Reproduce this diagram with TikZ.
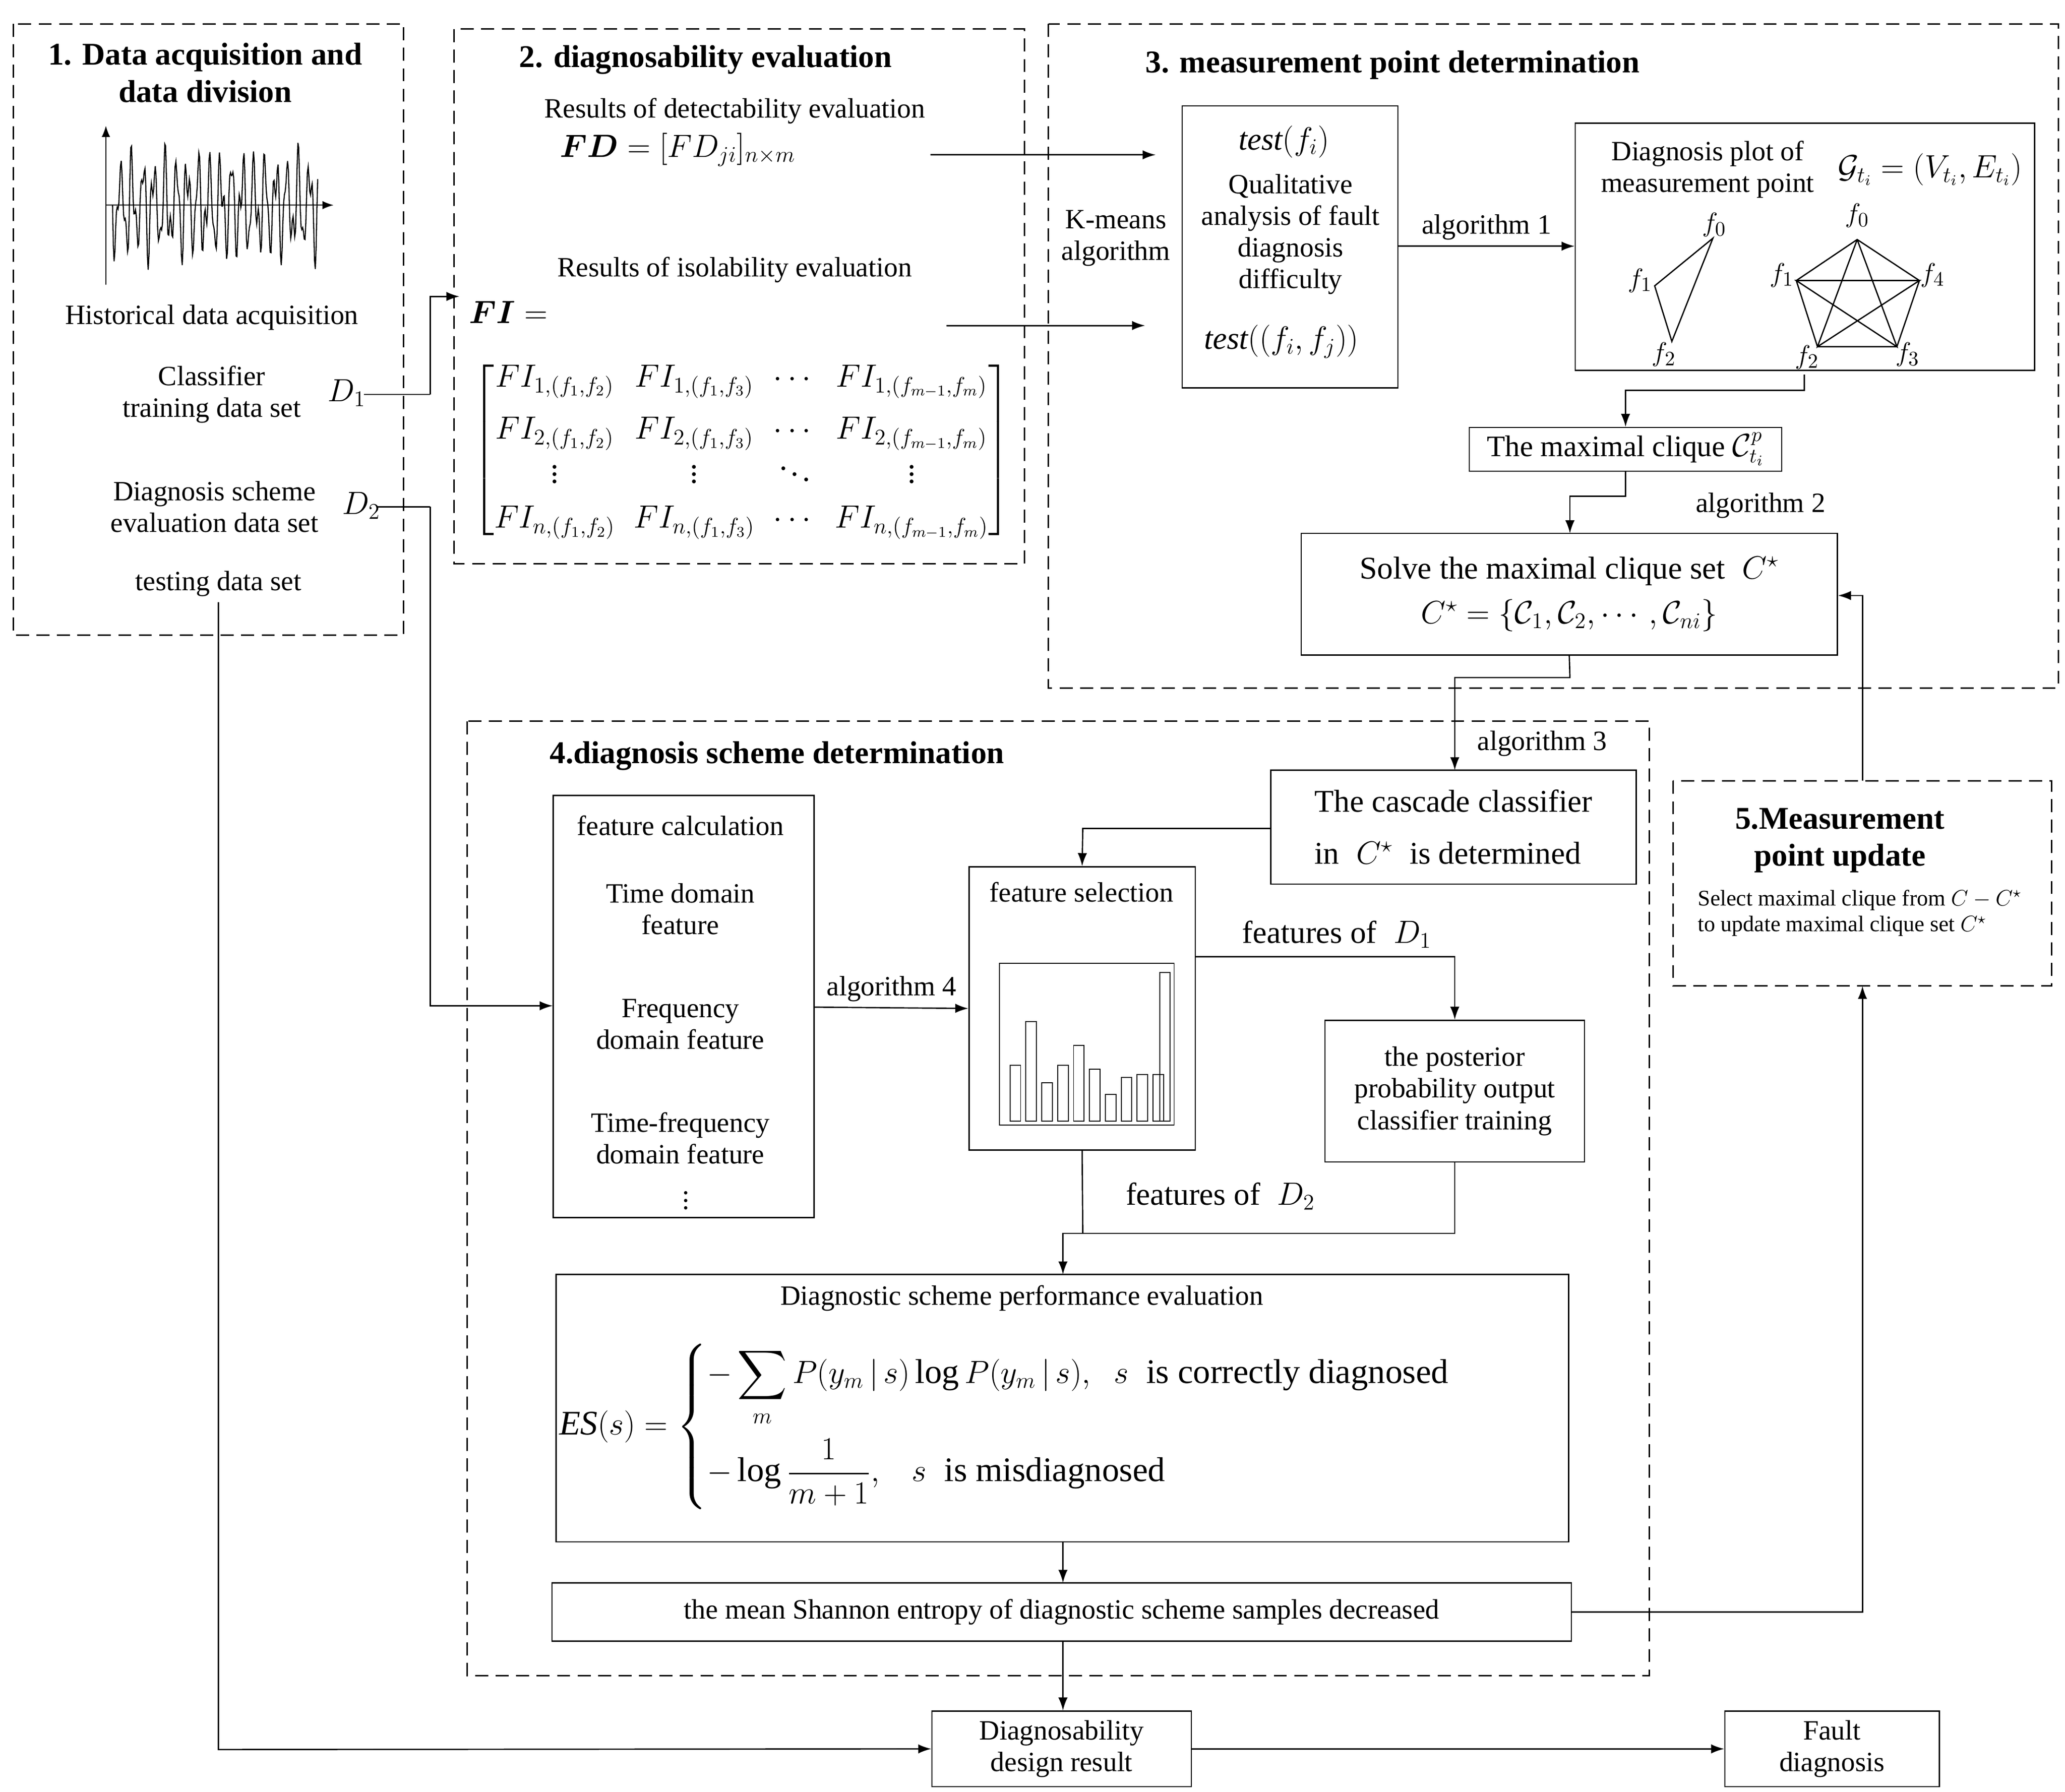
\documentclass[tikz,border=0pt]{standalone}
\usepackage{amsmath,amssymb}
\usepackage{fontspec}
\setmainfont{Liberation Serif}
\usetikzlibrary{arrows.meta}
\begin{document}
\begin{tikzpicture}[x=0.025cm,y=-0.025cm,
  font=\fontsize{15}{17}\selectfont,
  dbox/.style={draw,dashed,line width=0.8pt,dash pattern=on 7pt off 4pt},
  box/.style={draw,line width=0.7pt},
  arr/.style={-{Latex[length=7pt,width=5pt]},line width=0.7pt},
  ln/.style={line width=0.7pt},
  tt/.style={font=\fontsize{17}{20}\selectfont\bfseries,align=center},
  lbl/.style={align=center,inner sep=1pt}]
\useasboundingbox (0,0) rectangle (1560,1354);
% ---- box 1
\draw[dbox] (10,18) rectangle (305,480);
\node[tt] (t1) at (155,55) {1. Data acquisition and\\data division};
\draw[-{Latex[length=6pt]},line width=0.6pt] (80,215) -- (80,95);
\draw[-{Latex[length=6pt]},line width=0.6pt] (80,155) -- (252,155);
\draw[line width=0.6pt] plot[domain=0:155,samples=260] ({85+\x},{155+28*sin(43*\x)+14*sin(97*\x)+8*sin(71*\x)});
\node[lbl] (h1) at (160,240) {Historical data acquisition};
\node[lbl] (c1) at (160,298) {Classifier\\training data set};
\node[lbl,font=\fontsize{17}{20}\selectfont] (d1) at (262,297) {$D_1$};
\node[lbl] (c2) at (162,383) {Diagnosis scheme\\evaluation data set};
\node[lbl,font=\fontsize{17}{20}\selectfont] (d2) at (273,382) {$D_2$};
\node[lbl] (ts) at (165,441) {testing data set};
% ---- box 2
\draw[dbox] (343,22) rectangle (774,426);
\node[tt] (t2) at (533,45) {2. diagnosability evaluation};
\node[lbl] (rd) at (555,84) {Results of detectability evaluation};
\node[lbl,font=\fontsize{18}{20}\selectfont] (fd) at (512,113) {$\boldsymbol{FD}=[FD_{ji}]_{n\times m}$};
\node[lbl] (ri) at (555,204) {Results of isolability evaluation};
\node[lbl,font=\fontsize{18}{20}\selectfont] (fi) at (384,236) {$\boldsymbol{FI}=$};
\node[lbl,font=\fontsize{17}{20}\selectfont] (mat) at (560,340) {$\begin{bmatrix}
FI_{1,(f_1,f_2)} & FI_{1,(f_1,f_3)} & \cdots & FI_{1,(f_{m-1},f_m)}\\[8pt]
FI_{2,(f_1,f_2)} & FI_{2,(f_1,f_3)} & \cdots & FI_{2,(f_{m-1},f_m)}\\[2pt]
\vdots & \vdots & \ddots & \vdots\\[4pt]
FI_{n,(f_1,f_2)} & FI_{n,(f_1,f_3)} & \cdots & FI_{n,(f_{m-1},f_m)}
\end{bmatrix}$};
\coordinate (fdE) at (703,117); \coordinate (fdT) at (873,117);
\coordinate (fiE) at (715,246); \coordinate (fiT) at (865,246);
\draw[arr] (fdE) -- (fdT);
\draw[arr] (fiE) -- (fiT);
% ---- box 3
\draw[dbox] (792,18) rectangle (1555,520);
\node[tt] (t3) at (1052,49) {3. measurement point determination};
\node[lbl] (km) at (843,180) {K-means\\algorithm};
\node[box,minimum width=163*0.025cm,minimum height=213*0.025cm] (test) at (974.5,186.5) {};
\node[lbl,font=\fontsize{17}{20}\selectfont] at (970,107) {$\mathit{test}(f_i)$};
\node[lbl] at (975,177) {Qualitative\\analysis of fault\\diagnosis\\difficulty};
\node[lbl,font=\fontsize{17}{20}\selectfont] at (968,258) {$\mathit{test}((f_i,f_j))$};
\node[box,minimum width=347*0.025cm,minimum height=187*0.025cm] (dp) at (1363.5,186.5) {};
\draw[arr] (test.east|-0,186) -- node[above,lbl,pos=0.5,yshift=2pt] {algorithm 1} (dp.west|-0,186);
\node[lbl] at (1290,128) {Diagnosis plot of\\measurement point};
\node[lbl,font=\fontsize{17}{20}\selectfont] at (1458,128) {$\mathcal{G}_{t_i}=(V_{t_i},E_{t_i})$};
\coordinate (a0) at (1294,180); \coordinate (a1) at (1250,216); \coordinate (a2) at (1263,258);
\draw[ln] (a0)--(a1)--(a2)--cycle;
\node[lbl] at (1295,170) {$f_0$}; \node[lbl] at (1239,212) {$f_1$}; \node[lbl] at (1257,268) {$f_2$};
\coordinate (b0) at (1403,181); \coordinate (b1) at (1357,212); \coordinate (b4) at (1450,212);
\coordinate (b2) at (1373,262); \coordinate (b3) at (1433,262);
\draw[ln] (b0)--(b1)--(b2)--(b3)--(b4)--cycle (b0)--(b2)--(b4)--(b1)--(b3)--(b0);
\node[lbl] at (1403,163) {$f_0$}; \node[lbl] at (1346,208) {$f_1$}; \node[lbl] at (1460,208) {$f_4$};
\node[lbl] at (1365,270) {$f_2$}; \node[lbl] at (1441,268) {$f_3$};
\node[box,minimum width=236*0.025cm,minimum height=33*0.025cm,inner sep=0pt,font=\fontsize{16}{18}\selectfont] (mc) at (1228,339.5) {The maximal clique $\mathcal{C}_{t_i}^{p}$};
\draw[arr] (1363,283) -- (1363,295) -- (1228,295) -- (mc.north);
\node[box,minimum width=405*0.025cm,minimum height=92*0.025cm,align=center,font=\fontsize{17}{20}\selectfont] (sv) at (1185.5,449) {Solve the maximal clique set $\;C^\star$\\[4pt] $C^\star=\{\mathcal{C}_1,\mathcal{C}_2,\cdots,\mathcal{C}_{ni}\}$};
\draw[arr] (mc.south) -- (1228,375) -- (1186,375) -- (1186,403);
\node[lbl] at (1330,382) {algorithm 2};
% ---- box 4
\draw[dbox] (353,545) rectangle (1246,1266);
\node[tt] (t4) at (587,571) {4.diagnosis scheme determination};
\node[box,minimum width=276*0.025cm,minimum height=86*0.025cm,align=left,font=\fontsize{17}{20}\selectfont] (cc) at (1098,625) {The cascade classifier\\[8pt] in $\;C^\star\;$ is determined};
\draw[arr] (sv.south) -- (1186,512) -- (1099,512) -- (1099,582);
\node[lbl] at (1165,562) {algorithm 3};
\node[box,minimum width=197*0.025cm,minimum height=319*0.025cm] (fc) at (516.5,760.5) {};
\node[lbl] at (514,624) {feature calculation};
\node[lbl] at (514,687) {Time domain\\feature};
\node[lbl] at (514,774) {Frequency\\domain feature};
\node[lbl] at (514,860) {Time-frequency\\domain feature};
\node[lbl] at (518,903) {$\vdots$};
\node[box,minimum width=171*0.025cm,minimum height=214*0.025cm] (fs) at (817.5,762) {};
\node[lbl] at (817,674) {feature selection};
\draw[line width=0.5pt] (755,728) rectangle (887,850);
\foreach \xx/\yy in {763/805,775/772,787/818,799/805,811/790,823/808,835/827,847/814,859/812,871/812,876/735}
  \draw[line width=0.5pt] (\xx,847) rectangle (\xx+8,\yy);
\draw[arr] (fc.east|-0,761) -- node[above,lbl,yshift=2pt] {algorithm 4} (fs.west|-0,762);
\draw[arr] (cc.west|-0,626) -- (818,626) -- (fs.north);
\node[box,minimum width=196*0.025cm,minimum height=107*0.025cm,align=center] (pp) at (1099,824.5) {the posterior\\probability output\\classifier training};
\draw[arr] (fs.east|-0,723) -- (1099,723) -- (pp.north);
\node[lbl,font=\fontsize{17}{20}\selectfont] at (1010,706) {features of $\;D_1$};
\node[box,minimum width=765*0.025cm,minimum height=202*0.025cm] (ev) at (802.5,1064) {};
\node[lbl] at (772,981) {Diagnostic scheme performance evaluation};
\node[lbl,anchor=west,font=\fontsize{18.5}{22}\selectfont] at (421,1078) {$\mathit{ES}(s)=\begin{cases}\displaystyle -\sum_{m}P(y_m\,|\,s)\log P(y_m\,|\,s),\;\; s\;\text{ is correctly diagnosed}\\[22pt]\displaystyle -\log\frac{1}{m+1},\;\;\; s\;\text{ is misdiagnosed}\end{cases}$};
\draw[ln] (fs.south) -- (818,932);
\draw[arr] (pp.south) -- (1099,932) -- (803,932) -- (803,963);
\node[lbl,font=\fontsize{17}{20}\selectfont] at (922,904) {features of $\;D_2$};
\node[box,minimum width=770*0.025cm,minimum height=44*0.025cm] (ms) at (802,1218) {the mean Shannon entropy of diagnostic scheme samples decreased};
\draw[arr] (803,1165) -- (803,1196);
% ---- box 5
\draw[dbox] (1264,590) rectangle (1550,745);
\node[tt] at (1390,635) {5.Measurement\\point update};
\node[lbl,font=\fontsize{12}{14}\selectfont,align=left] at (1405,690) {Select maximal clique from $C-C^\star$\\to update maximal clique set $C^\star$};
\draw[arr] (ms.east) -- (1407,1218) -- (1407,745);
\draw[arr] (1407,590) -- (1407,450) -- (sv.east|-0,450);
% ---- bottom
\node[box,minimum width=196*0.025cm,minimum height=57*0.025cm,align=center,inner sep=0pt] (res) at (802,1321.5) {Diagnosability\\design result};
\node[box,minimum width=162*0.025cm,minimum height=57*0.025cm,align=center,inner sep=0pt] (fdg) at (1384,1321.5) {Fault\\diagnosis};
\draw[arr] (ms.south-|803,0) -- (res.north-|803,0);
\draw[arr] (res.east) -- (fdg.west);
\draw[arr] (165,455) -- (165,1322) -- (res.west);
% left connectors
\draw[ln] (275,298) -- (325,298);
\draw[ln] (285,383) -- (325,383);
\draw[arr] (325,298) -- (325,224) -- (347,224);
\draw[arr] (325,383) -- (325,760) -- (fc.west|-0,760);
\end{tikzpicture}
\end{document}
